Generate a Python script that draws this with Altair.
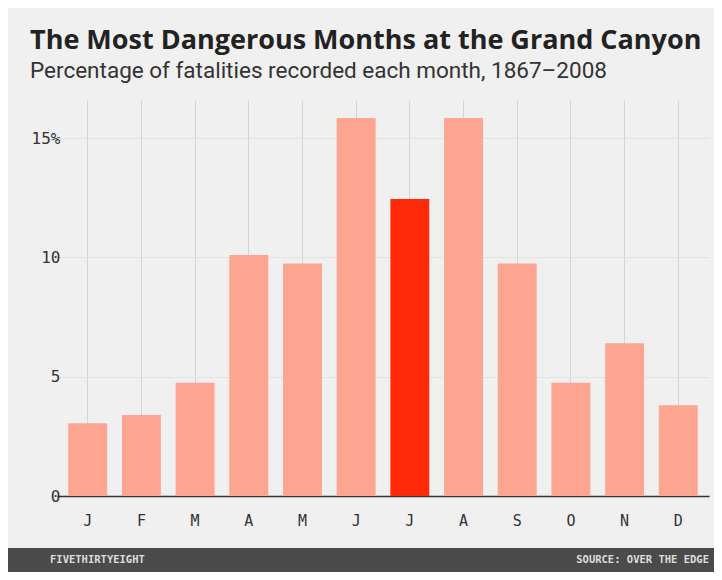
import altair as alt
import pandas as pd

months = ["Jan", "Feb", "Mar", "Apr", "May", "Jun", "Jul", "Aug", "Sep", "Oct", "Nov", "Dec"]
values = [3.05, 3.4, 4.75, 10.1, 9.75, 15.85, 12.45, 15.85, 9.75, 4.75, 6.4, 3.8]
highlight_month = "Jul"
y_ticks = [0, 5, 10, 15]

title_text = "The Most Dangerous Months at the Grand Canyon"
subtitle_text = "Percentage of fatalities recorded each month, 1867–2008"
footer_left = "FIVETHIRTYEIGHT"
footer_right = "SOURCE: OVER THE EDGE"

df = pd.DataFrame({"month": months, "pct": values})

bars = alt.Chart(df).mark_bar().encode(
    x=alt.X("month:N", sort=months,
            scale=alt.Scale(paddingInner=0.275, paddingOuter=0.21),
            axis=alt.Axis(title=None, labelExpr="substring(datum.label,0,1)",
                          labelFont="DejaVu Sans Mono", labelFontSize=15,
                          labelColor="#333", ticks=False, labelPadding=17,
                          labelAngle=0,
                          domainColor="#333", domainWidth=1.5,
                          grid=True, gridColor="#d4d4d4", bandPosition=0.5)),
    y=alt.Y("pct:Q", scale=alt.Scale(domain=[0, 16.6], nice=False),
            axis=alt.Axis(title=None, values=y_ticks, domain=False, ticks=False,
                          labelExpr="datum.value == 15 ? '15%' : datum.label + '\u00a0'",
                          labelFont="DejaVu Sans Mono", labelFontSize=16,
                          labelColor="#333", labelPadding=-3,
                          grid=True, gridColor="#e3e3e3")),
    color=alt.condition(alt.datum.month == highlight_month,
                        alt.value("#ff2a0a"), alt.value("#fda591")),
)

one = pd.DataFrame({"a": [0]})
footer_band = alt.Chart(one).mark_rect(color="#4b4b4b").encode(
    x=alt.value(-49), x2=alt.value(657), y=alt.value(448), y2=alt.value(472))
footer_l = alt.Chart(one).mark_text(
    text=footer_left, align="left", baseline="middle",
    font="DejaVu Sans Mono", fontSize=10.5, fontWeight="bold", color="#dddddd").encode(
    x=alt.value(-7), y=alt.value(460))
footer_r = alt.Chart(one).mark_text(
    text=footer_right, align="right", baseline="middle",
    font="DejaVu Sans Mono", fontSize=10.5, fontWeight="bold", color="#dddddd").encode(
    x=alt.value(652), y=alt.value(460))

chart = alt.layer(bars, footer_band, footer_l, footer_r).properties(
    width=652, height=396,
    autosize=alt.AutoSizeParams(type="none"),
    padding={"left": 49, "top": 92, "right": 5, "bottom": 76},
    background="#f0f0f0",
    title=alt.TitleParams(text=title_text, subtitle=subtitle_text,
                          anchor="start", frame="group", dx=-27, offset=17,
                          font="Open Sans", fontSize=27, fontWeight="bold",
                          color="#222", subtitleFont="Roboto",
                          subtitleFontSize=22.5, subtitleColor="#333",
                          subtitlePadding=5),
).configure_view(stroke=None)

chart.save("out.html", embed_options={"renderer": "svg", "actions": False})
